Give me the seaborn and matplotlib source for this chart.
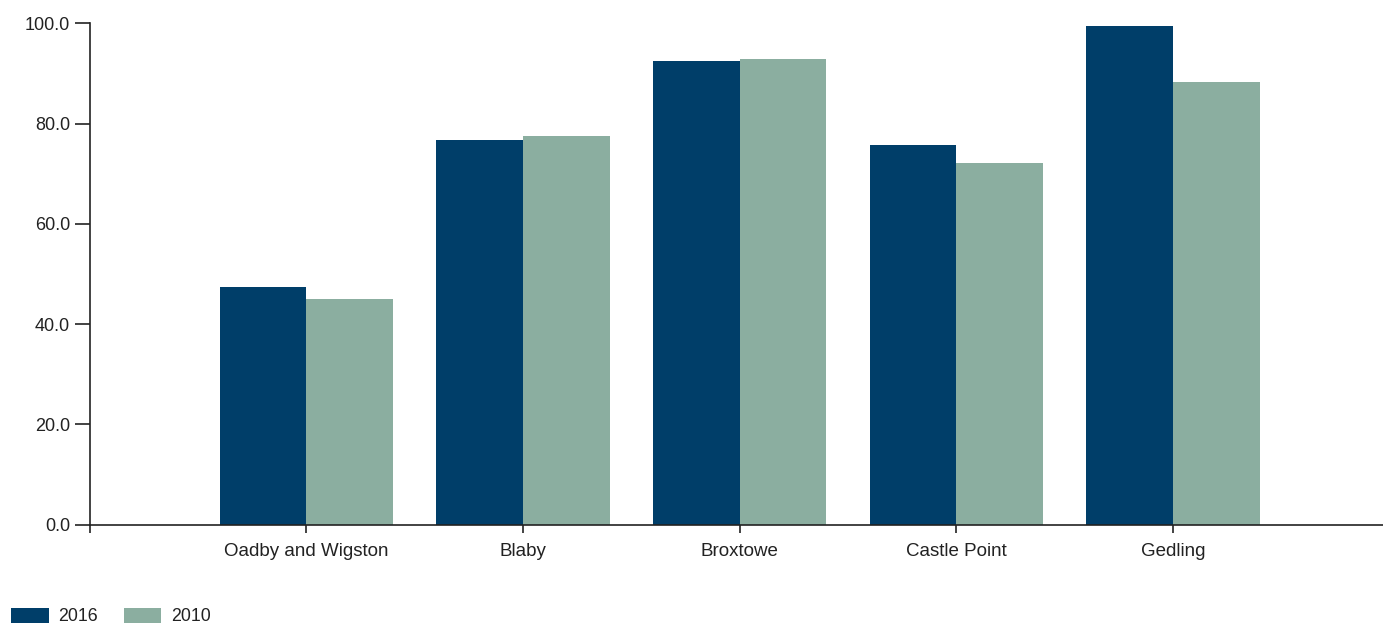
import matplotlib
matplotlib.use("Agg")
import matplotlib.pyplot as plt
import seaborn as sns
import pandas as pd
from matplotlib.ticker import FormatStrFormatter

categories = ["Oadby and Wigston", "Blaby", "Broxtowe", "Castle Point", "Gedling"]
values_2016 = [47.3, 76.8, 92.5, 75.7, 99.5]
values_2010 = [45.0, 77.6, 92.9, 72.1, 88.2]
series = ["2016", "2010"]
colors = ["#003E69", "#8BAEA0"]

df = pd.DataFrame({
    "area": categories * 2,
    "value": values_2016 + values_2010,
    "year": [series[0]] * len(categories) + [series[1]] * len(categories),
})

sns.set_style("white")
plt.rcParams["font.family"] = ["Liberation Sans", "DejaVu Sans"]

fig = plt.figure(figsize=(13.83, 6.25), dpi=100)
ax = fig.add_axes([89.5 / 1383, 1 - 524.5 / 625, 1 - 89.5 / 1383, (524.5 - 23.3) / 625])

sns.barplot(data=df, x="area", y="value", hue="year", order=categories,
            hue_order=series, palette=colors, width=0.8, saturation=1,
            edgecolor="none", linewidth=0, ax=ax, legend=True)

ax.set_ylim(0, 100)
ax.set_xlim(-1, 4.97)
ax.set_yticks([0, 20, 40, 60, 80, 100])
ax.yaxis.set_major_formatter(FormatStrFormatter("%.1f"))
ax.set_xticks([-1, 0, 1, 2, 3, 4])
ax.set_xticklabels([""] + categories)
ax.set_xlabel("")
ax.set_ylabel("")

for s in ["top", "right"]:
    ax.spines[s].set_visible(False)
for s in ["left", "bottom"]:
    ax.spines[s].set_color("#222222")
    ax.spines[s].set_linewidth(1.2)

ax.tick_params(axis="y", which="major", direction="out", length=11, width=1.2,
               color="#222222", labelsize=13, labelcolor="#222222", pad=3,
               left=True)
ax.tick_params(axis="x", which="major", direction="out", length=6, width=1.2,
               color="#222222", labelsize=13.5, labelcolor="#222222", pad=7,
               bottom=True)

handles, labels = ax.get_legend_handles_labels()
ax.get_legend().remove()
fig.legend(handles, labels, loc="lower left", bbox_to_anchor=(0.003, -0.012),
           ncol=2, frameon=False, fontsize=12.8, handlelength=2.1, handleheight=0.9,
           handletextpad=0.55, columnspacing=1.45, borderaxespad=0.0,
           labelcolor="#222222")

fig.savefig("out.png", dpi=100)
